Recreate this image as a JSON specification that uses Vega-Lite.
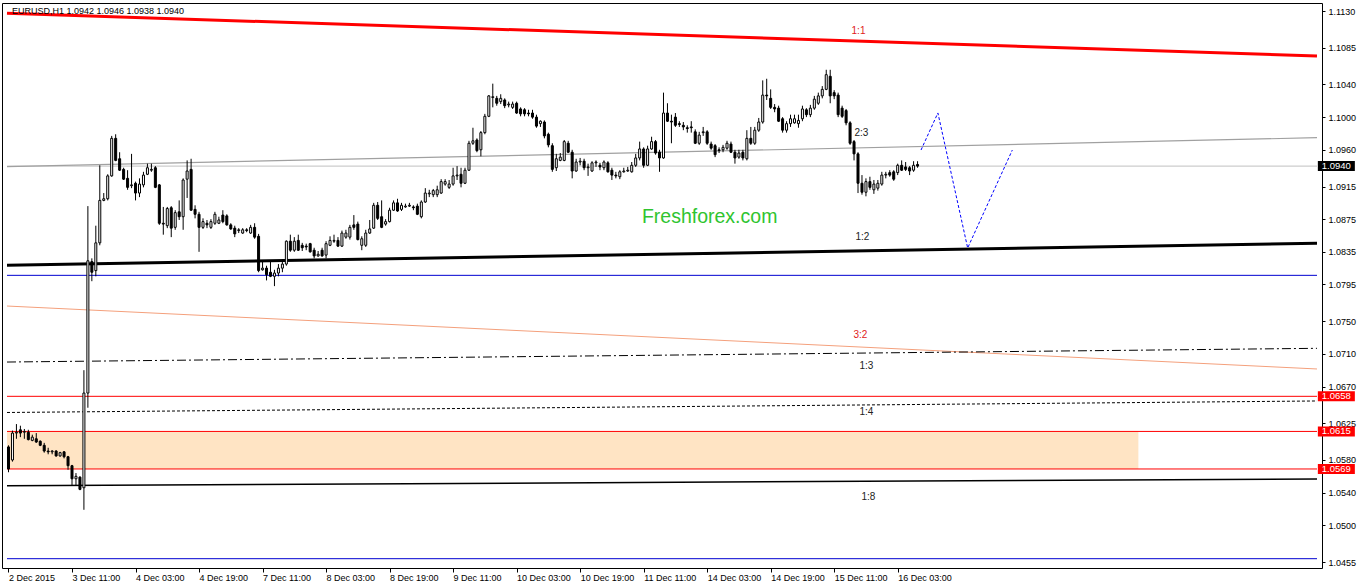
{
"$schema": "https://vega.github.io/schema/vega-lite/v6.json",
"width": 1320, "height": 565,
"autosize": "none",
"padding": {"left": 2, "top": 3, "right": 40, "bottom": 18},
"background": "white",
"config": {
  "view": {"stroke": "#000", "strokeWidth": 1},
  "axis": {"domain": false, "grid": false, "labelFont": "Liberation Sans", "labelFontSize": 9, "labelColor": "#000", "tickColor": "#000", "labelOverlap": false, "labelBound": false, "labelFlush": false, "labelSeparation": 0}
},
"datasets": {
"zone": [{"a": -0.375, "b": 284.625, "top": 1.0615, "bot": 1.0569}],
"lines": [
{"id":"r11","i":-0.375,"p":1.11272},{"id":"r11","i":329.625,"p":1.10749},
{"id":"g23","i":-0.375,"p":1.09393},{"id":"g23","i":329.625,"p":1.09748},
{"id":"cur","i":-0.375,"p":1.0940},{"id":"cur","i":329.625,"p":1.0940},
{"id":"b12","i":-0.375,"p":1.08186},{"id":"b12","i":329.625,"p":1.08454},
{"id":"blu1","i":-0.375,"p":1.08062},{"id":"blu1","i":329.625,"p":1.08062},
{"id":"s32","i":-0.375,"p":1.07686},{"id":"s32","i":329.625,"p":1.06915},
{"id":"d13","i":-0.375,"p":1.07000},{"id":"d13","i":329.625,"p":1.07168},
{"id":"r1","i":-0.375,"p":1.0658},{"id":"r1","i":329.625,"p":1.0658},
{"id":"r2","i":-0.375,"p":1.0615},{"id":"r2","i":329.625,"p":1.0615},
{"id":"r3","i":-0.375,"p":1.0569},{"id":"r3","i":329.625,"p":1.0569},
{"id":"d14","i":-0.375,"p":1.06382},{"id":"d14","i":329.625,"p":1.06523},
{"id":"b18","i":-0.375,"p":1.05485},{"id":"b18","i":329.625,"p":1.05567},
{"id":"blu2","i":-0.375,"p":1.04591},{"id":"blu2","i":329.625,"p":1.04591},
{"id":"proj","i":229.875,"p":1.09597},{"id":"proj","i":234.125,"p":1.10051},{"id":"proj","i":241.625,"p":1.08397},{"id":"proj","i":252.875,"p":1.09597}
],
"labels": [
{"t":"1:1","i":214.125,"p":1.11055,"red":true},
{"t":"2:3","i":214.875,"p":1.09805,"red":false},
{"t":"1:2","i":215.125,"p":1.08532,"red":false},
{"t":"3:2","i":214.625,"p":1.07331,"red":true},
{"t":"1:3","i":216.125,"p":1.06951,"red":false},
{"t":"1:4","i":216.125,"p":1.06388,"red":false},
{"t":"1:8","i":216.625,"p":1.05347,"red":false}
],
"brand": [{"t":"Freshforex.com","i":176.625,"p":1.08777}],
"head": [{"t":"EURUSD,H1  1.0942 1.0946 1.0938 1.0940","i":0.875,"p":1.1130}],
"tags": [
{"t":"1.0940","v":1.0940,"k":"cur"},
{"t":"1.0658","v":1.0658,"k":"lvl"},
{"t":"1.0615","v":1.0615,"k":"lvl"},
{"t":"1.0569","v":1.0569,"k":"lvl"}
],
"candles": [
{"i":0,"o":1.0596,"h":1.0598,"l":1.0565,"c":1.0569},
{"i":1,"o":1.0580,"h":1.0616,"l":1.0578,"c":1.0613},
{"i":2,"o":1.0613,"h":1.0624,"l":1.0606,"c":1.0614},
{"i":3,"o":1.0617,"h":1.0622,"l":1.0608,"c":1.0613},
{"i":4,"o":1.0614,"h":1.0618,"l":1.0606,"c":1.0615},
{"i":5,"o":1.0614,"h":1.0617,"l":1.0604,"c":1.0605},
{"i":6,"o":1.0604,"h":1.0611,"l":1.0603,"c":1.0608},
{"i":7,"o":1.0606,"h":1.0613,"l":1.0601,"c":1.0602},
{"i":8,"o":1.0603,"h":1.0604,"l":1.0597,"c":1.0598},
{"i":9,"o":1.0598,"h":1.0601,"l":1.0589,"c":1.0591},
{"i":10,"o":1.0591,"h":1.0595,"l":1.0587,"c":1.0590},
{"i":11,"o":1.0590,"h":1.0592,"l":1.0587,"c":1.0591},
{"i":12,"o":1.0591,"h":1.0592,"l":1.0584,"c":1.0585},
{"i":13,"o":1.0585,"h":1.0590,"l":1.0584,"c":1.0589},
{"i":14,"o":1.0590,"h":1.0591,"l":1.0582,"c":1.0584},
{"i":15,"o":1.0584,"h":1.0585,"l":1.0568,"c":1.0573},
{"i":16,"o":1.0573,"h":1.0574,"l":1.0549,"c":1.0557},
{"i":17,"o":1.0557,"h":1.0564,"l":1.0549,"c":1.0560},
{"i":18,"o":1.0559,"h":1.0560,"l":1.0543,"c":1.0544},
{"i":19,"o":1.0546,"h":1.0690,"l":1.0519,"c":1.0662},
{"i":20,"o":1.0662,"h":1.0891,"l":1.0644,"c":1.0824},
{"i":21,"o":1.0823,"h":1.0827,"l":1.0799,"c":1.0810},
{"i":22,"o":1.0812,"h":1.0867,"l":1.0805,"c":1.0846},
{"i":23,"o":1.0846,"h":1.0941,"l":1.0843,"c":1.0898},
{"i":24,"o":1.0898,"h":1.0907,"l":1.0897,"c":1.0900},
{"i":25,"o":1.0900,"h":1.0930,"l":1.0898,"c":1.0928},
{"i":26,"o":1.0928,"h":1.0977,"l":1.0927,"c":1.0974},
{"i":27,"o":1.0974,"h":1.0979,"l":1.0946,"c":1.0947},
{"i":28,"o":1.0949,"h":1.0957,"l":1.0934,"c":1.0935},
{"i":29,"o":1.0936,"h":1.0938,"l":1.0923,"c":1.0924},
{"i":30,"o":1.0925,"h":1.0935,"l":1.0911,"c":1.0914},
{"i":31,"o":1.0916,"h":1.0955,"l":1.0913,"c":1.0917},
{"i":32,"o":1.0919,"h":1.0921,"l":1.0898,"c":1.0907},
{"i":33,"o":1.0907,"h":1.0925,"l":1.0902,"c":1.0918},
{"i":34,"o":1.0917,"h":1.0933,"l":1.0914,"c":1.0929},
{"i":35,"o":1.0930,"h":1.0943,"l":1.0929,"c":1.0938},
{"i":36,"o":1.0935,"h":1.0943,"l":1.0933,"c":1.0936},
{"i":37,"o":1.0938,"h":1.0940,"l":1.0913,"c":1.0914},
{"i":38,"o":1.0917,"h":1.0918,"l":1.0868,"c":1.0870},
{"i":39,"o":1.0870,"h":1.0890,"l":1.0856,"c":1.0869},
{"i":40,"o":1.0867,"h":1.0890,"l":1.0864,"c":1.0888},
{"i":41,"o":1.0889,"h":1.0891,"l":1.0853,"c":1.0864},
{"i":42,"o":1.0865,"h":1.0886,"l":1.0862,"c":1.0883},
{"i":43,"o":1.0884,"h":1.0898,"l":1.0874,"c":1.0878},
{"i":44,"o":1.0878,"h":1.0925,"l":1.0862,"c":1.0923},
{"i":45,"o":1.0924,"h":1.0947,"l":1.0901,"c":1.0934},
{"i":46,"o":1.0936,"h":1.0949,"l":1.0885,"c":1.0886},
{"i":47,"o":1.0887,"h":1.0892,"l":1.0876,"c":1.0881},
{"i":48,"o":1.0881,"h":1.0884,"l":1.0835,"c":1.0865},
{"i":49,"o":1.0865,"h":1.0876,"l":1.0863,"c":1.0872},
{"i":50,"o":1.0870,"h":1.0874,"l":1.0864,"c":1.0868},
{"i":51,"o":1.0865,"h":1.0875,"l":1.0863,"c":1.0872},
{"i":52,"o":1.0870,"h":1.0884,"l":1.0868,"c":1.0881},
{"i":53,"o":1.0870,"h":1.0878,"l":1.0869,"c":1.0874},
{"i":54,"o":1.0880,"h":1.0886,"l":1.0870,"c":1.0872},
{"i":55,"o":1.0879,"h":1.0881,"l":1.0867,"c":1.0868},
{"i":56,"o":1.0868,"h":1.0870,"l":1.0862,"c":1.0863},
{"i":57,"o":1.0864,"h":1.0867,"l":1.0853,"c":1.0857},
{"i":58,"o":1.0861,"h":1.0864,"l":1.0858,"c":1.0862},
{"i":59,"o":1.0858,"h":1.0864,"l":1.0857,"c":1.0862},
{"i":60,"o":1.0862,"h":1.0864,"l":1.0859,"c":1.0861},
{"i":61,"o":1.0858,"h":1.0868,"l":1.0857,"c":1.0865},
{"i":62,"o":1.0865,"h":1.0870,"l":1.0851,"c":1.0853},
{"i":63,"o":1.0854,"h":1.0857,"l":1.0810,"c":1.0812},
{"i":64,"o":1.0813,"h":1.0823,"l":1.0812,"c":1.0815},
{"i":65,"o":1.0815,"h":1.0818,"l":1.0800,"c":1.0807},
{"i":66,"o":1.0810,"h":1.0823,"l":1.0804,"c":1.0805},
{"i":67,"o":1.0805,"h":1.0813,"l":1.0793,"c":1.0809},
{"i":68,"o":1.0809,"h":1.0820,"l":1.0805,"c":1.0815},
{"i":69,"o":1.0815,"h":1.0825,"l":1.0810,"c":1.0820},
{"i":70,"o":1.0820,"h":1.0849,"l":1.0818,"c":1.0848},
{"i":71,"o":1.0848,"h":1.0856,"l":1.0835,"c":1.0837},
{"i":72,"o":1.0837,"h":1.0853,"l":1.0835,"c":1.0848},
{"i":73,"o":1.0849,"h":1.0856,"l":1.0836,"c":1.0837},
{"i":74,"o":1.0843,"h":1.0846,"l":1.0836,"c":1.0840},
{"i":75,"o":1.0842,"h":1.0845,"l":1.0837,"c":1.0841},
{"i":76,"o":1.0845,"h":1.0846,"l":1.0834,"c":1.0835},
{"i":77,"o":1.0837,"h":1.0840,"l":1.0827,"c":1.0830},
{"i":78,"o":1.0830,"h":1.0836,"l":1.0829,"c":1.0832},
{"i":79,"o":1.0837,"h":1.0840,"l":1.0829,"c":1.0830},
{"i":80,"o":1.0831,"h":1.0848,"l":1.0827,"c":1.0845},
{"i":81,"o":1.0843,"h":1.0854,"l":1.0842,"c":1.0849},
{"i":82,"o":1.0848,"h":1.0856,"l":1.0846,"c":1.0849},
{"i":83,"o":1.0849,"h":1.0853,"l":1.0841,"c":1.0842},
{"i":84,"o":1.0842,"h":1.0861,"l":1.0841,"c":1.0858},
{"i":85,"o":1.0853,"h":1.0862,"l":1.0851,"c":1.0858},
{"i":86,"o":1.0853,"h":1.0868,"l":1.0850,"c":1.0865},
{"i":87,"o":1.0868,"h":1.0880,"l":1.0862,"c":1.0865},
{"i":88,"o":1.0869,"h":1.0872,"l":1.0849,"c":1.0850},
{"i":89,"o":1.0843,"h":1.0854,"l":1.0837,"c":1.0851},
{"i":90,"o":1.0843,"h":1.0862,"l":1.0841,"c":1.0858},
{"i":91,"o":1.0858,"h":1.0874,"l":1.0857,"c":1.0863},
{"i":92,"o":1.0864,"h":1.0895,"l":1.0863,"c":1.0892},
{"i":93,"o":1.0892,"h":1.0896,"l":1.0874,"c":1.0876},
{"i":94,"o":1.0878,"h":1.0898,"l":1.0864,"c":1.0865},
{"i":95,"o":1.0869,"h":1.0875,"l":1.0867,"c":1.0872},
{"i":96,"o":1.0872,"h":1.0889,"l":1.0871,"c":1.0886},
{"i":97,"o":1.0886,"h":1.0898,"l":1.0885,"c":1.0895},
{"i":98,"o":1.0895,"h":1.0900,"l":1.0884,"c":1.0885},
{"i":99,"o":1.0887,"h":1.0895,"l":1.0885,"c":1.0892},
{"i":100,"o":1.0890,"h":1.0894,"l":1.0889,"c":1.0891},
{"i":101,"o":1.0891,"h":1.0895,"l":1.0890,"c":1.0892},
{"i":102,"o":1.0890,"h":1.0892,"l":1.0886,"c":1.0889},
{"i":103,"o":1.0891,"h":1.0894,"l":1.0880,"c":1.0881},
{"i":104,"o":1.0878,"h":1.0898,"l":1.0876,"c":1.0896},
{"i":105,"o":1.0896,"h":1.0913,"l":1.0895,"c":1.0907},
{"i":106,"o":1.0906,"h":1.0911,"l":1.0902,"c":1.0907},
{"i":107,"o":1.0905,"h":1.0912,"l":1.0902,"c":1.0910},
{"i":108,"o":1.0905,"h":1.0916,"l":1.0902,"c":1.0911},
{"i":109,"o":1.0907,"h":1.0924,"l":1.0906,"c":1.0921},
{"i":110,"o":1.0918,"h":1.0924,"l":1.0916,"c":1.0921},
{"i":111,"o":1.0914,"h":1.0923,"l":1.0912,"c":1.0918},
{"i":112,"o":1.0918,"h":1.0938,"l":1.0916,"c":1.0928},
{"i":113,"o":1.0928,"h":1.0940,"l":1.0923,"c":1.0929},
{"i":114,"o":1.0930,"h":1.0938,"l":1.0914,"c":1.0919},
{"i":115,"o":1.0919,"h":1.0938,"l":1.0918,"c":1.0935},
{"i":116,"o":1.0935,"h":1.0971,"l":1.0934,"c":1.0968},
{"i":117,"o":1.0968,"h":1.0987,"l":1.0966,"c":1.0971},
{"i":118,"o":1.0972,"h":1.0974,"l":1.0957,"c":1.0959},
{"i":119,"o":1.0960,"h":1.0983,"l":1.0952,"c":1.0981},
{"i":120,"o":1.0981,"h":1.1004,"l":1.0979,"c":1.1001},
{"i":121,"o":1.1001,"h":1.1027,"l":1.1000,"c":1.1026},
{"i":122,"o":1.1024,"h":1.1041,"l":1.1012,"c":1.1025},
{"i":123,"o":1.1023,"h":1.1026,"l":1.1014,"c":1.1017},
{"i":124,"o":1.1019,"h":1.1028,"l":1.1016,"c":1.1023},
{"i":125,"o":1.1021,"h":1.1023,"l":1.1011,"c":1.1014},
{"i":126,"o":1.1015,"h":1.1019,"l":1.1012,"c":1.1016},
{"i":127,"o":1.1012,"h":1.1019,"l":1.1010,"c":1.1016},
{"i":128,"o":1.1017,"h":1.1019,"l":1.1004,"c":1.1005},
{"i":129,"o":1.1010,"h":1.1012,"l":1.1001,"c":1.1004},
{"i":130,"o":1.1009,"h":1.1011,"l":1.1001,"c":1.1004},
{"i":131,"o":1.1005,"h":1.1009,"l":1.1001,"c":1.1004},
{"i":132,"o":1.1005,"h":1.1009,"l":1.0998,"c":1.1000},
{"i":133,"o":1.1000,"h":1.1003,"l":1.0987,"c":1.0989},
{"i":134,"o":1.0992,"h":1.0996,"l":1.0988,"c":1.0995},
{"i":135,"o":1.0994,"h":1.0996,"l":1.0974,"c":1.0977},
{"i":136,"o":1.0979,"h":1.0981,"l":1.0963,"c":1.0966},
{"i":137,"o":1.0965,"h":1.0968,"l":1.0933,"c":1.0936},
{"i":138,"o":1.0938,"h":1.0955,"l":1.0934,"c":1.0949},
{"i":139,"o":1.0947,"h":1.0956,"l":1.0946,"c":1.0951},
{"i":140,"o":1.0947,"h":1.0972,"l":1.0946,"c":1.0970},
{"i":141,"o":1.0968,"h":1.0971,"l":1.0956,"c":1.0957},
{"i":142,"o":1.0957,"h":1.0960,"l":1.0925,"c":1.0934},
{"i":143,"o":1.0934,"h":1.0949,"l":1.0933,"c":1.0945},
{"i":144,"o":1.0945,"h":1.0950,"l":1.0941,"c":1.0946},
{"i":145,"o":1.0946,"h":1.0949,"l":1.0935,"c":1.0938},
{"i":146,"o":1.0938,"h":1.0943,"l":1.0928,"c":1.0939},
{"i":147,"o":1.0934,"h":1.0946,"l":1.0933,"c":1.0944},
{"i":148,"o":1.0944,"h":1.0947,"l":1.0939,"c":1.0945},
{"i":149,"o":1.0941,"h":1.0944,"l":1.0935,"c":1.0939},
{"i":150,"o":1.0938,"h":1.0947,"l":1.0935,"c":1.0945},
{"i":151,"o":1.0944,"h":1.0946,"l":1.0932,"c":1.0933},
{"i":152,"o":1.0935,"h":1.0938,"l":1.0923,"c":1.0929},
{"i":153,"o":1.0929,"h":1.0933,"l":1.0925,"c":1.0928},
{"i":154,"o":1.0927,"h":1.0935,"l":1.0924,"c":1.0933},
{"i":155,"o":1.0933,"h":1.0938,"l":1.0932,"c":1.0934},
{"i":156,"o":1.0934,"h":1.0939,"l":1.0933,"c":1.0935},
{"i":157,"o":1.0933,"h":1.0945,"l":1.0932,"c":1.0941},
{"i":158,"o":1.0941,"h":1.0955,"l":1.0939,"c":1.0950},
{"i":159,"o":1.0950,"h":1.0970,"l":1.0947,"c":1.0961},
{"i":160,"o":1.0961,"h":1.0963,"l":1.0938,"c":1.0941},
{"i":161,"o":1.0941,"h":1.0965,"l":1.0940,"c":1.0961},
{"i":162,"o":1.0961,"h":1.0976,"l":1.0960,"c":1.0970},
{"i":163,"o":1.0970,"h":1.0972,"l":1.0954,"c":1.0956},
{"i":164,"o":1.0957,"h":1.0960,"l":1.0933,"c":1.0950},
{"i":165,"o":1.0950,"h":1.1030,"l":1.0949,"c":1.1005},
{"i":166,"o":1.1005,"h":1.1017,"l":1.0994,"c":1.0995},
{"i":167,"o":1.0995,"h":1.1003,"l":1.0968,"c":1.0994},
{"i":168,"o":1.1000,"h":1.1005,"l":1.0988,"c":1.0990},
{"i":169,"o":1.0992,"h":1.0995,"l":1.0988,"c":1.0991},
{"i":170,"o":1.0990,"h":1.0994,"l":1.0984,"c":1.0988},
{"i":171,"o":1.0987,"h":1.0990,"l":1.0981,"c":1.0986},
{"i":172,"o":1.0988,"h":1.0995,"l":1.0981,"c":1.0987},
{"i":173,"o":1.0982,"h":1.0985,"l":1.0967,"c":1.0968},
{"i":174,"o":1.0968,"h":1.0982,"l":1.0966,"c":1.0978},
{"i":175,"o":1.0981,"h":1.0988,"l":1.0977,"c":1.0982},
{"i":176,"o":1.0982,"h":1.0984,"l":1.0966,"c":1.0968},
{"i":177,"o":1.0967,"h":1.0970,"l":1.0960,"c":1.0962},
{"i":178,"o":1.0965,"h":1.0967,"l":1.0951,"c":1.0954},
{"i":179,"o":1.0960,"h":1.0963,"l":1.0956,"c":1.0959},
{"i":180,"o":1.0960,"h":1.0966,"l":1.0957,"c":1.0963},
{"i":181,"o":1.0962,"h":1.0971,"l":1.0960,"c":1.0968},
{"i":182,"o":1.0967,"h":1.0970,"l":1.0956,"c":1.0957},
{"i":183,"o":1.0957,"h":1.0960,"l":1.0943,"c":1.0950},
{"i":184,"o":1.0951,"h":1.0960,"l":1.0949,"c":1.0956},
{"i":185,"o":1.0957,"h":1.0960,"l":1.0947,"c":1.0950},
{"i":186,"o":1.0949,"h":1.0984,"l":1.0947,"c":1.0974},
{"i":187,"o":1.0974,"h":1.0988,"l":1.0966,"c":1.0968},
{"i":188,"o":1.0968,"h":1.0988,"l":1.0966,"c":1.0984},
{"i":189,"o":1.0984,"h":1.0999,"l":1.0982,"c":1.0994},
{"i":190,"o":1.0994,"h":1.1045,"l":1.0992,"c":1.1027},
{"i":191,"o":1.1027,"h":1.1047,"l":1.1021,"c":1.1026},
{"i":192,"o":1.1023,"h":1.1034,"l":1.1010,"c":1.1012},
{"i":193,"o":1.1012,"h":1.1016,"l":1.1006,"c":1.1010},
{"i":194,"o":1.1011,"h":1.1014,"l":1.0994,"c":1.0995},
{"i":195,"o":1.0998,"h":1.1000,"l":1.0981,"c":1.0984},
{"i":196,"o":1.0984,"h":1.0995,"l":1.0981,"c":1.0992},
{"i":197,"o":1.0992,"h":1.1003,"l":1.0988,"c":1.0998},
{"i":198,"o":1.0993,"h":1.1003,"l":1.0992,"c":1.0998},
{"i":199,"o":1.0992,"h":1.1003,"l":1.0987,"c":1.0996},
{"i":200,"o":1.0998,"h":1.1014,"l":1.0995,"c":1.1010},
{"i":201,"o":1.1009,"h":1.1011,"l":1.1000,"c":1.1003},
{"i":202,"o":1.1003,"h":1.1015,"l":1.1000,"c":1.1011},
{"i":203,"o":1.1011,"h":1.1026,"l":1.1009,"c":1.1022},
{"i":204,"o":1.1017,"h":1.1030,"l":1.1015,"c":1.1026},
{"i":205,"o":1.1026,"h":1.1038,"l":1.1023,"c":1.1034},
{"i":206,"o":1.1034,"h":1.1058,"l":1.1033,"c":1.1052},
{"i":207,"o":1.1050,"h":1.1058,"l":1.1017,"c":1.1026},
{"i":208,"o":1.1030,"h":1.1033,"l":1.1022,"c":1.1026},
{"i":209,"o":1.1027,"h":1.1030,"l":1.1000,"c":1.1003},
{"i":210,"o":1.1011,"h":1.1014,"l":1.0999,"c":1.1001},
{"i":211,"o":1.1008,"h":1.1010,"l":1.0990,"c":1.0993},
{"i":212,"o":1.0993,"h":1.0995,"l":1.0966,"c":1.0968},
{"i":213,"o":1.0970,"h":1.0972,"l":1.0947,"c":1.0955},
{"i":214,"o":1.0955,"h":1.0957,"l":1.0907,"c":1.0919},
{"i":215,"o":1.0919,"h":1.0929,"l":1.0905,"c":1.0908},
{"i":216,"o":1.0908,"h":1.0925,"l":1.0903,"c":1.0921},
{"i":217,"o":1.0921,"h":1.0927,"l":1.0911,"c":1.0914},
{"i":218,"o":1.0911,"h":1.0923,"l":1.0906,"c":1.0918},
{"i":219,"o":1.0913,"h":1.0923,"l":1.0910,"c":1.0919},
{"i":220,"o":1.0918,"h":1.0933,"l":1.0916,"c":1.0929},
{"i":221,"o":1.0929,"h":1.0933,"l":1.0925,"c":1.0930},
{"i":222,"o":1.0932,"h":1.0935,"l":1.0927,"c":1.0929},
{"i":223,"o":1.0933,"h":1.0935,"l":1.0922,"c":1.0924},
{"i":224,"o":1.0932,"h":1.0943,"l":1.0929,"c":1.0941},
{"i":225,"o":1.0941,"h":1.0947,"l":1.0934,"c":1.0935},
{"i":226,"o":1.0939,"h":1.0945,"l":1.0934,"c":1.0936},
{"i":227,"o":1.0938,"h":1.0940,"l":1.0929,"c":1.0934},
{"i":228,"o":1.0935,"h":1.0946,"l":1.0933,"c":1.0941},
{"i":229,"o":1.0942,"h":1.0946,"l":1.0938,"c":1.0940}
]
},
"layer": [
{
  "data": {"name": "zone"},
  "mark": {"type": "rect", "fill": "#ffe4c4"},
  "encoding": {
    "x": {"field": "a", "type": "quantitative", "scale": {"domain": [-0.375, 329.625], "nice": false, "zero": false},
      "axis": {"title": null, "values": [0,16,32,48,64,80,96,112,128,144,160,176,192,208,224], "labelAlign": "left", "labelBaseline": "top", "tickSize": 4, "labelPadding": 1, "labelFlush": false, "labelOverlap": false,
        "labelExpr": "['2 Dec 2015','3 Dec 11:00','4 Dec 03:00','4 Dec 19:00','7 Dec 11:00','8 Dec 03:00','8 Dec 19:00','9 Dec 11:00','10 Dec 03:00','10 Dec 19:00','11 Dec 11:00','14 Dec 03:00','14 Dec 19:00','15 Dec 11:00','16 Dec 03:00'][round(datum.value/16)]"}},
    "x2": {"field": "b"},
    "y": {"field": "top", "type": "quantitative", "scale": {"domain": [1.04477, 1.11398], "nice": false, "zero": false},
      "axis": {"title": null, "orient": "right", "values": [1.1130,1.1085,1.1040,1.1000,1.0960,1.0915,1.0875,1.0835,1.0795,1.0750,1.0710,1.0670,1.0625,1.0580,1.0540,1.0500,1.0455], "format": ".4f", "tickSize": 3, "labelPadding": 3, "labelOverlap": false, "labelFlush": false, "labelSeparation": 0}},
    "y2": {"field": "bot"}
  }
},
{
  "data": {"name": "lines"},
  "transform": [{"filter": "datum.id=='r1'||datum.id=='r2'||datum.id=='r3'"}],
  "mark": {"type": "line", "color": "#ff0000", "strokeWidth": 1},
  "encoding": {
    "x": {"field": "i", "type": "quantitative", "scale": {"domain": [-0.375, 329.625], "nice": false, "zero": false},
      "axis": {"title": null, "values": [0,16,32,48,64,80,96,112,128,144,160,176,192,208,224], "labelAlign": "left", "labelBaseline": "top", "tickSize": 4, "labelPadding": 1, "labelFlush": false, "labelOverlap": false,
        "labelExpr": "['2 Dec 2015','3 Dec 11:00','4 Dec 03:00','4 Dec 19:00','7 Dec 11:00','8 Dec 03:00','8 Dec 19:00','9 Dec 11:00','10 Dec 03:00','10 Dec 19:00','11 Dec 11:00','14 Dec 03:00','14 Dec 19:00','15 Dec 11:00','16 Dec 03:00'][round(datum.value/16)]"}},
    "y": {"field": "p", "type": "quantitative", "scale": {"domain": [1.04477, 1.11398], "nice": false, "zero": false},
      "axis": {"title": null, "orient": "right", "values": [1.1130,1.1085,1.1040,1.1000,1.0960,1.0915,1.0875,1.0835,1.0795,1.0750,1.0710,1.0670,1.0625,1.0580,1.0540,1.0500,1.0455], "format": ".4f", "tickSize": 3, "labelPadding": 3, "labelOverlap": false, "labelFlush": false, "labelSeparation": 0}},
    "detail": {"field": "id"}
  }
},
{
  "data": {"name": "lines"},
  "transform": [{"filter": "datum.id=='cur'"}],
  "mark": {"type": "line", "color": "#c0c0c0", "strokeWidth": 1},
  "encoding": {
    "x": {"field": "i", "type": "quantitative", "scale": {"domain": [-0.375, 329.625], "nice": false, "zero": false},
      "axis": {"title": null, "values": [0,16,32,48,64,80,96,112,128,144,160,176,192,208,224], "labelAlign": "left", "labelBaseline": "top", "tickSize": 4, "labelPadding": 1, "labelFlush": false, "labelOverlap": false,
        "labelExpr": "['2 Dec 2015','3 Dec 11:00','4 Dec 03:00','4 Dec 19:00','7 Dec 11:00','8 Dec 03:00','8 Dec 19:00','9 Dec 11:00','10 Dec 03:00','10 Dec 19:00','11 Dec 11:00','14 Dec 03:00','14 Dec 19:00','15 Dec 11:00','16 Dec 03:00'][round(datum.value/16)]"}},
    "y": {"field": "p", "type": "quantitative", "scale": {"domain": [1.04477, 1.11398], "nice": false, "zero": false},
      "axis": {"title": null, "orient": "right", "values": [1.1130,1.1085,1.1040,1.1000,1.0960,1.0915,1.0875,1.0835,1.0795,1.0750,1.0710,1.0670,1.0625,1.0580,1.0540,1.0500,1.0455], "format": ".4f", "tickSize": 3, "labelPadding": 3, "labelOverlap": false, "labelFlush": false, "labelSeparation": 0}}
  }
},
{
  "data": {"name": "lines"},
  "transform": [{"filter": "datum.id=='g23'"}],
  "mark": {"type": "line", "color": "#a0a0a0", "strokeWidth": 1.2},
  "encoding": {
    "x": {"field": "i", "type": "quantitative", "scale": {"domain": [-0.375, 329.625], "nice": false, "zero": false},
      "axis": {"title": null, "values": [0,16,32,48,64,80,96,112,128,144,160,176,192,208,224], "labelAlign": "left", "labelBaseline": "top", "tickSize": 4, "labelPadding": 1, "labelFlush": false, "labelOverlap": false,
        "labelExpr": "['2 Dec 2015','3 Dec 11:00','4 Dec 03:00','4 Dec 19:00','7 Dec 11:00','8 Dec 03:00','8 Dec 19:00','9 Dec 11:00','10 Dec 03:00','10 Dec 19:00','11 Dec 11:00','14 Dec 03:00','14 Dec 19:00','15 Dec 11:00','16 Dec 03:00'][round(datum.value/16)]"}},
    "y": {"field": "p", "type": "quantitative", "scale": {"domain": [1.04477, 1.11398], "nice": false, "zero": false},
      "axis": {"title": null, "orient": "right", "values": [1.1130,1.1085,1.1040,1.1000,1.0960,1.0915,1.0875,1.0835,1.0795,1.0750,1.0710,1.0670,1.0625,1.0580,1.0540,1.0500,1.0455], "format": ".4f", "tickSize": 3, "labelPadding": 3, "labelOverlap": false, "labelFlush": false, "labelSeparation": 0}}
  }
},
{
  "data": {"name": "lines"},
  "transform": [{"filter": "datum.id=='blu1'||datum.id=='blu2'"}],
  "mark": {"type": "line", "color": "#0000d0", "strokeWidth": 1},
  "encoding": {
    "x": {"field": "i", "type": "quantitative", "scale": {"domain": [-0.375, 329.625], "nice": false, "zero": false},
      "axis": {"title": null, "values": [0,16,32,48,64,80,96,112,128,144,160,176,192,208,224], "labelAlign": "left", "labelBaseline": "top", "tickSize": 4, "labelPadding": 1, "labelFlush": false, "labelOverlap": false,
        "labelExpr": "['2 Dec 2015','3 Dec 11:00','4 Dec 03:00','4 Dec 19:00','7 Dec 11:00','8 Dec 03:00','8 Dec 19:00','9 Dec 11:00','10 Dec 03:00','10 Dec 19:00','11 Dec 11:00','14 Dec 03:00','14 Dec 19:00','15 Dec 11:00','16 Dec 03:00'][round(datum.value/16)]"}},
    "y": {"field": "p", "type": "quantitative", "scale": {"domain": [1.04477, 1.11398], "nice": false, "zero": false},
      "axis": {"title": null, "orient": "right", "values": [1.1130,1.1085,1.1040,1.1000,1.0960,1.0915,1.0875,1.0835,1.0795,1.0750,1.0710,1.0670,1.0625,1.0580,1.0540,1.0500,1.0455], "format": ".4f", "tickSize": 3, "labelPadding": 3, "labelOverlap": false, "labelFlush": false, "labelSeparation": 0}},
    "detail": {"field": "id"}
  }
},
{
  "data": {"name": "lines"},
  "transform": [{"filter": "datum.id=='s32'"}],
  "mark": {"type": "line", "color": "#f4a07c", "strokeWidth": 1},
  "encoding": {
    "x": {"field": "i", "type": "quantitative", "scale": {"domain": [-0.375, 329.625], "nice": false, "zero": false},
      "axis": {"title": null, "values": [0,16,32,48,64,80,96,112,128,144,160,176,192,208,224], "labelAlign": "left", "labelBaseline": "top", "tickSize": 4, "labelPadding": 1, "labelFlush": false, "labelOverlap": false,
        "labelExpr": "['2 Dec 2015','3 Dec 11:00','4 Dec 03:00','4 Dec 19:00','7 Dec 11:00','8 Dec 03:00','8 Dec 19:00','9 Dec 11:00','10 Dec 03:00','10 Dec 19:00','11 Dec 11:00','14 Dec 03:00','14 Dec 19:00','15 Dec 11:00','16 Dec 03:00'][round(datum.value/16)]"}},
    "y": {"field": "p", "type": "quantitative", "scale": {"domain": [1.04477, 1.11398], "nice": false, "zero": false},
      "axis": {"title": null, "orient": "right", "values": [1.1130,1.1085,1.1040,1.1000,1.0960,1.0915,1.0875,1.0835,1.0795,1.0750,1.0710,1.0670,1.0625,1.0580,1.0540,1.0500,1.0455], "format": ".4f", "tickSize": 3, "labelPadding": 3, "labelOverlap": false, "labelFlush": false, "labelSeparation": 0}}
  }
},
{
  "data": {"name": "lines"},
  "transform": [{"filter": "datum.id=='d13'"}],
  "mark": {"type": "line", "color": "#000000", "strokeWidth": 1, "strokeDash": [9, 3, 2, 3]},
  "encoding": {
    "x": {"field": "i", "type": "quantitative", "scale": {"domain": [-0.375, 329.625], "nice": false, "zero": false},
      "axis": {"title": null, "values": [0,16,32,48,64,80,96,112,128,144,160,176,192,208,224], "labelAlign": "left", "labelBaseline": "top", "tickSize": 4, "labelPadding": 1, "labelFlush": false, "labelOverlap": false,
        "labelExpr": "['2 Dec 2015','3 Dec 11:00','4 Dec 03:00','4 Dec 19:00','7 Dec 11:00','8 Dec 03:00','8 Dec 19:00','9 Dec 11:00','10 Dec 03:00','10 Dec 19:00','11 Dec 11:00','14 Dec 03:00','14 Dec 19:00','15 Dec 11:00','16 Dec 03:00'][round(datum.value/16)]"}},
    "y": {"field": "p", "type": "quantitative", "scale": {"domain": [1.04477, 1.11398], "nice": false, "zero": false},
      "axis": {"title": null, "orient": "right", "values": [1.1130,1.1085,1.1040,1.1000,1.0960,1.0915,1.0875,1.0835,1.0795,1.0750,1.0710,1.0670,1.0625,1.0580,1.0540,1.0500,1.0455], "format": ".4f", "tickSize": 3, "labelPadding": 3, "labelOverlap": false, "labelFlush": false, "labelSeparation": 0}}
  }
},
{
  "data": {"name": "lines"},
  "transform": [{"filter": "datum.id=='d14'"}],
  "mark": {"type": "line", "color": "#000000", "strokeWidth": 1, "strokeDash": [3, 2]},
  "encoding": {
    "x": {"field": "i", "type": "quantitative", "scale": {"domain": [-0.375, 329.625], "nice": false, "zero": false},
      "axis": {"title": null, "values": [0,16,32,48,64,80,96,112,128,144,160,176,192,208,224], "labelAlign": "left", "labelBaseline": "top", "tickSize": 4, "labelPadding": 1, "labelFlush": false, "labelOverlap": false,
        "labelExpr": "['2 Dec 2015','3 Dec 11:00','4 Dec 03:00','4 Dec 19:00','7 Dec 11:00','8 Dec 03:00','8 Dec 19:00','9 Dec 11:00','10 Dec 03:00','10 Dec 19:00','11 Dec 11:00','14 Dec 03:00','14 Dec 19:00','15 Dec 11:00','16 Dec 03:00'][round(datum.value/16)]"}},
    "y": {"field": "p", "type": "quantitative", "scale": {"domain": [1.04477, 1.11398], "nice": false, "zero": false},
      "axis": {"title": null, "orient": "right", "values": [1.1130,1.1085,1.1040,1.1000,1.0960,1.0915,1.0875,1.0835,1.0795,1.0750,1.0710,1.0670,1.0625,1.0580,1.0540,1.0500,1.0455], "format": ".4f", "tickSize": 3, "labelPadding": 3, "labelOverlap": false, "labelFlush": false, "labelSeparation": 0}}
  }
},
{
  "data": {"name": "lines"},
  "transform": [{"filter": "datum.id=='b18'"}],
  "mark": {"type": "line", "color": "#000000", "strokeWidth": 1.5},
  "encoding": {
    "x": {"field": "i", "type": "quantitative", "scale": {"domain": [-0.375, 329.625], "nice": false, "zero": false},
      "axis": {"title": null, "values": [0,16,32,48,64,80,96,112,128,144,160,176,192,208,224], "labelAlign": "left", "labelBaseline": "top", "tickSize": 4, "labelPadding": 1, "labelFlush": false, "labelOverlap": false,
        "labelExpr": "['2 Dec 2015','3 Dec 11:00','4 Dec 03:00','4 Dec 19:00','7 Dec 11:00','8 Dec 03:00','8 Dec 19:00','9 Dec 11:00','10 Dec 03:00','10 Dec 19:00','11 Dec 11:00','14 Dec 03:00','14 Dec 19:00','15 Dec 11:00','16 Dec 03:00'][round(datum.value/16)]"}},
    "y": {"field": "p", "type": "quantitative", "scale": {"domain": [1.04477, 1.11398], "nice": false, "zero": false},
      "axis": {"title": null, "orient": "right", "values": [1.1130,1.1085,1.1040,1.1000,1.0960,1.0915,1.0875,1.0835,1.0795,1.0750,1.0710,1.0670,1.0625,1.0580,1.0540,1.0500,1.0455], "format": ".4f", "tickSize": 3, "labelPadding": 3, "labelOverlap": false, "labelFlush": false, "labelSeparation": 0}}
  }
},
{
  "data": {"name": "lines"},
  "transform": [{"filter": "datum.id=='b12'"}],
  "mark": {"type": "line", "color": "#000000", "strokeWidth": 3},
  "encoding": {
    "x": {"field": "i", "type": "quantitative", "scale": {"domain": [-0.375, 329.625], "nice": false, "zero": false},
      "axis": {"title": null, "values": [0,16,32,48,64,80,96,112,128,144,160,176,192,208,224], "labelAlign": "left", "labelBaseline": "top", "tickSize": 4, "labelPadding": 1, "labelFlush": false, "labelOverlap": false,
        "labelExpr": "['2 Dec 2015','3 Dec 11:00','4 Dec 03:00','4 Dec 19:00','7 Dec 11:00','8 Dec 03:00','8 Dec 19:00','9 Dec 11:00','10 Dec 03:00','10 Dec 19:00','11 Dec 11:00','14 Dec 03:00','14 Dec 19:00','15 Dec 11:00','16 Dec 03:00'][round(datum.value/16)]"}},
    "y": {"field": "p", "type": "quantitative", "scale": {"domain": [1.04477, 1.11398], "nice": false, "zero": false},
      "axis": {"title": null, "orient": "right", "values": [1.1130,1.1085,1.1040,1.1000,1.0960,1.0915,1.0875,1.0835,1.0795,1.0750,1.0710,1.0670,1.0625,1.0580,1.0540,1.0500,1.0455], "format": ".4f", "tickSize": 3, "labelPadding": 3, "labelOverlap": false, "labelFlush": false, "labelSeparation": 0}}
  }
},
{
  "data": {"name": "lines"},
  "transform": [{"filter": "datum.id=='r11'"}],
  "mark": {"type": "line", "color": "#ff0000", "strokeWidth": 3},
  "encoding": {
    "x": {"field": "i", "type": "quantitative", "scale": {"domain": [-0.375, 329.625], "nice": false, "zero": false},
      "axis": {"title": null, "values": [0,16,32,48,64,80,96,112,128,144,160,176,192,208,224], "labelAlign": "left", "labelBaseline": "top", "tickSize": 4, "labelPadding": 1, "labelFlush": false, "labelOverlap": false,
        "labelExpr": "['2 Dec 2015','3 Dec 11:00','4 Dec 03:00','4 Dec 19:00','7 Dec 11:00','8 Dec 03:00','8 Dec 19:00','9 Dec 11:00','10 Dec 03:00','10 Dec 19:00','11 Dec 11:00','14 Dec 03:00','14 Dec 19:00','15 Dec 11:00','16 Dec 03:00'][round(datum.value/16)]"}},
    "y": {"field": "p", "type": "quantitative", "scale": {"domain": [1.04477, 1.11398], "nice": false, "zero": false},
      "axis": {"title": null, "orient": "right", "values": [1.1130,1.1085,1.1040,1.1000,1.0960,1.0915,1.0875,1.0835,1.0795,1.0750,1.0710,1.0670,1.0625,1.0580,1.0540,1.0500,1.0455], "format": ".4f", "tickSize": 3, "labelPadding": 3, "labelOverlap": false, "labelFlush": false, "labelSeparation": 0}}
  }
},
{
  "data": {"name": "lines"},
  "transform": [{"filter": "datum.id=='proj'"}],
  "mark": {"type": "line", "color": "#0000ff", "strokeWidth": 1, "strokeDash": [3, 2]},
  "encoding": {
    "x": {"field": "i", "type": "quantitative", "scale": {"domain": [-0.375, 329.625], "nice": false, "zero": false},
      "axis": {"title": null, "values": [0,16,32,48,64,80,96,112,128,144,160,176,192,208,224], "labelAlign": "left", "labelBaseline": "top", "tickSize": 4, "labelPadding": 1, "labelFlush": false, "labelOverlap": false,
        "labelExpr": "['2 Dec 2015','3 Dec 11:00','4 Dec 03:00','4 Dec 19:00','7 Dec 11:00','8 Dec 03:00','8 Dec 19:00','9 Dec 11:00','10 Dec 03:00','10 Dec 19:00','11 Dec 11:00','14 Dec 03:00','14 Dec 19:00','15 Dec 11:00','16 Dec 03:00'][round(datum.value/16)]"}},
    "y": {"field": "p", "type": "quantitative", "scale": {"domain": [1.04477, 1.11398], "nice": false, "zero": false},
      "axis": {"title": null, "orient": "right", "values": [1.1130,1.1085,1.1040,1.1000,1.0960,1.0915,1.0875,1.0835,1.0795,1.0750,1.0710,1.0670,1.0625,1.0580,1.0540,1.0500,1.0455], "format": ".4f", "tickSize": 3, "labelPadding": 3, "labelOverlap": false, "labelFlush": false, "labelSeparation": 0}}
  }
},
{
  "data": {"name": "candles"},
  "mark": {"type": "rule", "color": "#000000", "strokeWidth": 1},
  "encoding": {
    "x": {"field": "i", "type": "quantitative", "scale": {"domain": [-0.375, 329.625], "nice": false, "zero": false},
      "axis": {"title": null, "values": [0,16,32,48,64,80,96,112,128,144,160,176,192,208,224], "labelAlign": "left", "labelBaseline": "top", "tickSize": 4, "labelPadding": 1, "labelFlush": false, "labelOverlap": false,
        "labelExpr": "['2 Dec 2015','3 Dec 11:00','4 Dec 03:00','4 Dec 19:00','7 Dec 11:00','8 Dec 03:00','8 Dec 19:00','9 Dec 11:00','10 Dec 03:00','10 Dec 19:00','11 Dec 11:00','14 Dec 03:00','14 Dec 19:00','15 Dec 11:00','16 Dec 03:00'][round(datum.value/16)]"}},
    "y": {"field": "l", "type": "quantitative", "scale": {"domain": [1.04477, 1.11398], "nice": false, "zero": false},
      "axis": {"title": null, "orient": "right", "values": [1.1130,1.1085,1.1040,1.1000,1.0960,1.0915,1.0875,1.0835,1.0795,1.0750,1.0710,1.0670,1.0625,1.0580,1.0540,1.0500,1.0455], "format": ".4f", "tickSize": 3, "labelPadding": 3, "labelOverlap": false, "labelFlush": false, "labelSeparation": 0}},
    "y2": {"field": "h"}
  }
},
{
  "data": {"name": "candles"},
  "mark": {"type": "bar", "size": 2, "stroke": "#000000", "strokeWidth": 1},
  "encoding": {
    "x": {"field": "i", "type": "quantitative", "scale": {"domain": [-0.375, 329.625], "nice": false, "zero": false},
      "axis": {"title": null, "values": [0,16,32,48,64,80,96,112,128,144,160,176,192,208,224], "labelAlign": "left", "labelBaseline": "top", "tickSize": 4, "labelPadding": 1, "labelFlush": false, "labelOverlap": false,
        "labelExpr": "['2 Dec 2015','3 Dec 11:00','4 Dec 03:00','4 Dec 19:00','7 Dec 11:00','8 Dec 03:00','8 Dec 19:00','9 Dec 11:00','10 Dec 03:00','10 Dec 19:00','11 Dec 11:00','14 Dec 03:00','14 Dec 19:00','15 Dec 11:00','16 Dec 03:00'][round(datum.value/16)]"}},
    "y": {"field": "o", "type": "quantitative", "scale": {"domain": [1.04477, 1.11398], "nice": false, "zero": false},
      "axis": {"title": null, "orient": "right", "values": [1.1130,1.1085,1.1040,1.1000,1.0960,1.0915,1.0875,1.0835,1.0795,1.0750,1.0710,1.0670,1.0625,1.0580,1.0540,1.0500,1.0455], "format": ".4f", "tickSize": 3, "labelPadding": 3, "labelOverlap": false, "labelFlush": false, "labelSeparation": 0}},
    "y2": {"field": "c"},
    "fill": {"condition": {"test": "datum.c >= datum.o", "value": "#ffffff"}, "value": "#000000"}
  }
},
{
  "data": {"name": "labels"},
  "mark": {"type": "text", "font": "Liberation Sans", "fontSize": 10, "align": "center", "baseline": "middle"},
  "encoding": {
    "x": {"field": "i", "type": "quantitative", "scale": {"domain": [-0.375, 329.625], "nice": false, "zero": false},
      "axis": {"title": null, "values": [0,16,32,48,64,80,96,112,128,144,160,176,192,208,224], "labelAlign": "left", "labelBaseline": "top", "tickSize": 4, "labelPadding": 1, "labelFlush": false, "labelOverlap": false,
        "labelExpr": "['2 Dec 2015','3 Dec 11:00','4 Dec 03:00','4 Dec 19:00','7 Dec 11:00','8 Dec 03:00','8 Dec 19:00','9 Dec 11:00','10 Dec 03:00','10 Dec 19:00','11 Dec 11:00','14 Dec 03:00','14 Dec 19:00','15 Dec 11:00','16 Dec 03:00'][round(datum.value/16)]"}},
    "y": {"field": "p", "type": "quantitative", "scale": {"domain": [1.04477, 1.11398], "nice": false, "zero": false},
      "axis": {"title": null, "orient": "right", "values": [1.1130,1.1085,1.1040,1.1000,1.0960,1.0915,1.0875,1.0835,1.0795,1.0750,1.0710,1.0670,1.0625,1.0580,1.0540,1.0500,1.0455], "format": ".4f", "tickSize": 3, "labelPadding": 3, "labelOverlap": false, "labelFlush": false, "labelSeparation": 0}},
    "text": {"field": "t"},
    "color": {"condition": {"test": "datum.red", "value": "#e02020"}, "value": "#222222"}
  }
},
{
  "data": {"name": "brand"},
  "mark": {"type": "text", "font": "Liberation Sans", "fontSize": 19.5, "align": "center", "baseline": "middle", "color": "#2fc42f"},
  "encoding": {
    "x": {"field": "i", "type": "quantitative", "scale": {"domain": [-0.375, 329.625], "nice": false, "zero": false},
      "axis": {"title": null, "values": [0,16,32,48,64,80,96,112,128,144,160,176,192,208,224], "labelAlign": "left", "labelBaseline": "top", "tickSize": 4, "labelPadding": 1, "labelFlush": false, "labelOverlap": false,
        "labelExpr": "['2 Dec 2015','3 Dec 11:00','4 Dec 03:00','4 Dec 19:00','7 Dec 11:00','8 Dec 03:00','8 Dec 19:00','9 Dec 11:00','10 Dec 03:00','10 Dec 19:00','11 Dec 11:00','14 Dec 03:00','14 Dec 19:00','15 Dec 11:00','16 Dec 03:00'][round(datum.value/16)]"}},
    "y": {"field": "p", "type": "quantitative", "scale": {"domain": [1.04477, 1.11398], "nice": false, "zero": false},
      "axis": {"title": null, "orient": "right", "values": [1.1130,1.1085,1.1040,1.1000,1.0960,1.0915,1.0875,1.0835,1.0795,1.0750,1.0710,1.0670,1.0625,1.0580,1.0540,1.0500,1.0455], "format": ".4f", "tickSize": 3, "labelPadding": 3, "labelOverlap": false, "labelFlush": false, "labelSeparation": 0}},
    "text": {"field": "t"}
  }
},
{
  "data": {"name": "head"},
  "mark": {"type": "text", "font": "Liberation Sans", "fontSize": 9, "align": "left", "baseline": "middle", "color": "#000000"},
  "encoding": {
    "x": {"field": "i", "type": "quantitative", "scale": {"domain": [-0.375, 329.625], "nice": false, "zero": false},
      "axis": {"title": null, "values": [0,16,32,48,64,80,96,112,128,144,160,176,192,208,224], "labelAlign": "left", "labelBaseline": "top", "tickSize": 4, "labelPadding": 1, "labelFlush": false, "labelOverlap": false,
        "labelExpr": "['2 Dec 2015','3 Dec 11:00','4 Dec 03:00','4 Dec 19:00','7 Dec 11:00','8 Dec 03:00','8 Dec 19:00','9 Dec 11:00','10 Dec 03:00','10 Dec 19:00','11 Dec 11:00','14 Dec 03:00','14 Dec 19:00','15 Dec 11:00','16 Dec 03:00'][round(datum.value/16)]"}},
    "y": {"field": "p", "type": "quantitative", "scale": {"domain": [1.04477, 1.11398], "nice": false, "zero": false},
      "axis": {"title": null, "orient": "right", "values": [1.1130,1.1085,1.1040,1.1000,1.0960,1.0915,1.0875,1.0835,1.0795,1.0750,1.0710,1.0670,1.0625,1.0580,1.0540,1.0500,1.0455], "format": ".4f", "tickSize": 3, "labelPadding": 3, "labelOverlap": false, "labelFlush": false, "labelSeparation": 0}},
    "text": {"field": "t"}
  }
},
{
  "data": {"name": "tags"},
  "mark": {"type": "tick", "orient": "horizontal", "size": 37, "thickness": 10, "opacity": 1},
  "encoding": {
    "x": {"datum": 334.5, "type": "quantitative", "scale": {"domain": [-0.375, 329.625], "nice": false, "zero": false},
      "axis": {"title": null, "values": [0,16,32,48,64,80,96,112,128,144,160,176,192,208,224], "labelAlign": "left", "labelBaseline": "top", "tickSize": 4, "labelPadding": 1, "labelFlush": false, "labelOverlap": false,
        "labelExpr": "['2 Dec 2015','3 Dec 11:00','4 Dec 03:00','4 Dec 19:00','7 Dec 11:00','8 Dec 03:00','8 Dec 19:00','9 Dec 11:00','10 Dec 03:00','10 Dec 19:00','11 Dec 11:00','14 Dec 03:00','14 Dec 19:00','15 Dec 11:00','16 Dec 03:00'][round(datum.value/16)]"}},
    "y": {"field": "v", "type": "quantitative", "scale": {"domain": [1.04477, 1.11398], "nice": false, "zero": false},
      "axis": {"title": null, "orient": "right", "values": [1.1130,1.1085,1.1040,1.1000,1.0960,1.0915,1.0875,1.0835,1.0795,1.0750,1.0710,1.0670,1.0625,1.0580,1.0540,1.0500,1.0455], "format": ".4f", "tickSize": 3, "labelPadding": 3, "labelOverlap": false, "labelFlush": false, "labelSeparation": 0}},
    "color": {"condition": {"test": "datum.k=='cur'", "value": "#000000"}, "value": "#ff0000"}
  }
},
{
  "data": {"name": "tags"},
  "mark": {"type": "text", "font": "Liberation Sans", "fontSize": 9.5, "align": "center", "baseline": "middle", "color": "#ffffff"},
  "encoding": {
    "x": {"datum": 334.5, "type": "quantitative", "scale": {"domain": [-0.375, 329.625], "nice": false, "zero": false},
      "axis": {"title": null, "values": [0,16,32,48,64,80,96,112,128,144,160,176,192,208,224], "labelAlign": "left", "labelBaseline": "top", "tickSize": 4, "labelPadding": 1, "labelFlush": false, "labelOverlap": false,
        "labelExpr": "['2 Dec 2015','3 Dec 11:00','4 Dec 03:00','4 Dec 19:00','7 Dec 11:00','8 Dec 03:00','8 Dec 19:00','9 Dec 11:00','10 Dec 03:00','10 Dec 19:00','11 Dec 11:00','14 Dec 03:00','14 Dec 19:00','15 Dec 11:00','16 Dec 03:00'][round(datum.value/16)]"}},
    "y": {"field": "v", "type": "quantitative", "scale": {"domain": [1.04477, 1.11398], "nice": false, "zero": false},
      "axis": {"title": null, "orient": "right", "values": [1.1130,1.1085,1.1040,1.1000,1.0960,1.0915,1.0875,1.0835,1.0795,1.0750,1.0710,1.0670,1.0625,1.0580,1.0540,1.0500,1.0455], "format": ".4f", "tickSize": 3, "labelPadding": 3, "labelOverlap": false, "labelFlush": false, "labelSeparation": 0}},
    "text": {"field": "t"}
  }
}
]
}
